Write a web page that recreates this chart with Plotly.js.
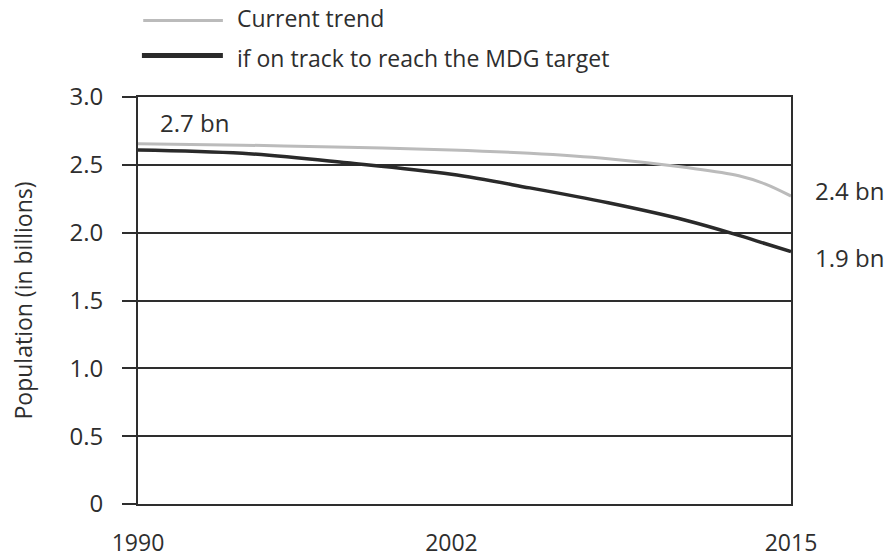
<!DOCTYPE html>
<html>
<head>
<meta charset="utf-8">
<script src="https://cdn.plot.ly/plotly-3.0.1.min.js"></script>
<style>html,body{margin:0;padding:0;background:#fff;}#chart{width:889px;height:558px;}</style>
</head>
<body>
<div id="chart"></div>
<script>
var years = [1990, 1994, 1998, 2002, 2005, 2008, 2011, 2013, 2014, 2015];
var currentTrend = [2.655, 2.645, 2.63, 2.61, 2.585, 2.545, 2.48, 2.42, 2.36, 2.27];
var onTrack = [2.61, 2.585, 2.515, 2.43, 2.33, 2.22, 2.09, 1.98, 1.92, 1.86];
var xTickVals = [1990, 2002, 2015];
var xTickText = ['1990', '2002', '2015'];
var yTickVals = [0, 0.5, 1.0, 1.5, 2.0, 2.5, 3.0];
var yTickText = ['0', '0.5', '1.0', '1.5', '2.0', '2.5', '3.0'];
var seriesNames = ['Current trend', 'if on track to reach the MDG target'];
var seriesColors = ['#bbbbbb', '#2a2a2a'];
var endLabels = ['2.7 bn', '2.4 bn', '1.9 bn'];

var FONT = 'Open Sans, sans-serif';
var INK = '#2e2e2e';

var traces = [
  {x: years, y: currentTrend, name: seriesNames[0], mode: 'lines',
   line: {color: seriesColors[0], width: 3, shape: 'spline', smoothing: 1}},
  {x: years, y: onTrack, name: seriesNames[1], mode: 'lines',
   line: {color: seriesColors[1], width: 3.5, shape: 'spline', smoothing: 1}}
];

var layout = {
  width: 889, height: 558,
  margin: {l: 138, r: 98, t: 97, b: 54},
  paper_bgcolor: '#fff', plot_bgcolor: '#fff',
  showlegend: false,
  font: {family: FONT, color: INK, size: 24},
  xaxis: {
    range: [1990, 2015], tickvals: xTickVals, ticktext: xTickText,
    showgrid: false, zeroline: false, showline: true, mirror: true,
    linecolor: INK, linewidth: 2, ticks: '', ticklabelstandoff: 17,
    tickfont: {family: FONT, size: 23, color: INK}, fixedrange: true
  },
  yaxis: {
    range: [0, 3], tickvals: yTickVals, ticktext: yTickText,
    showgrid: true, gridcolor: INK, gridwidth: 2, zeroline: false,
    showline: true, mirror: true, linecolor: INK, linewidth: 2,
    ticks: 'outside', ticklen: 14, tickwidth: 2, tickcolor: INK,
    ticklabelstandoff: 14,
    tickfont: {family: FONT, size: 24, color: INK},
    title: {text: 'Population (in billions)', font: {family: FONT, size: 23, color: INK}, standoff: 30},
    fixedrange: true
  },
  shapes: [
    {type: 'line', xref: 'paper', yref: 'paper', x0: 0.008, x1: 0.130, y0: 1.188, y1: 1.188,
     line: {color: seriesColors[0], width: 3}},
    {type: 'line', xref: 'paper', yref: 'paper', x0: 0.006, x1: 0.130, y0: 1.102, y1: 1.102,
     line: {color: seriesColors[1], width: 5}}
  ],
  annotations: [
    {xref: 'paper', yref: 'paper', x: 0.148, y: 1.194, xanchor: 'left', yanchor: 'middle',
     text: seriesNames[0], showarrow: false, font: {family: FONT, size: 23, color: INK}},
    {xref: 'paper', yref: 'paper', x: 0.148, y: 1.096, xanchor: 'left', yanchor: 'middle',
     text: seriesNames[1], showarrow: false, font: {family: FONT, size: 23, color: INK}},
    {xref: 'x', yref: 'y', x: 1990, y: 2.81, xanchor: 'left', yanchor: 'middle', xshift: 20,
     text: endLabels[0], showarrow: false, font: {family: FONT, size: 24, color: INK}},
    {xref: 'x', yref: 'y', x: 2015, y: 2.31, xanchor: 'left', yanchor: 'middle', xshift: 22,
     text: endLabels[1], showarrow: false, font: {family: FONT, size: 24, color: INK}},
    {xref: 'x', yref: 'y', x: 2015, y: 1.82, xanchor: 'left', yanchor: 'middle', xshift: 22,
     text: endLabels[2], showarrow: false, font: {family: FONT, size: 24, color: INK}}
  ]
};

Plotly.newPlot('chart', traces, layout, {displayModeBar: false, staticPlot: true});
</script>
</body>
</html>
